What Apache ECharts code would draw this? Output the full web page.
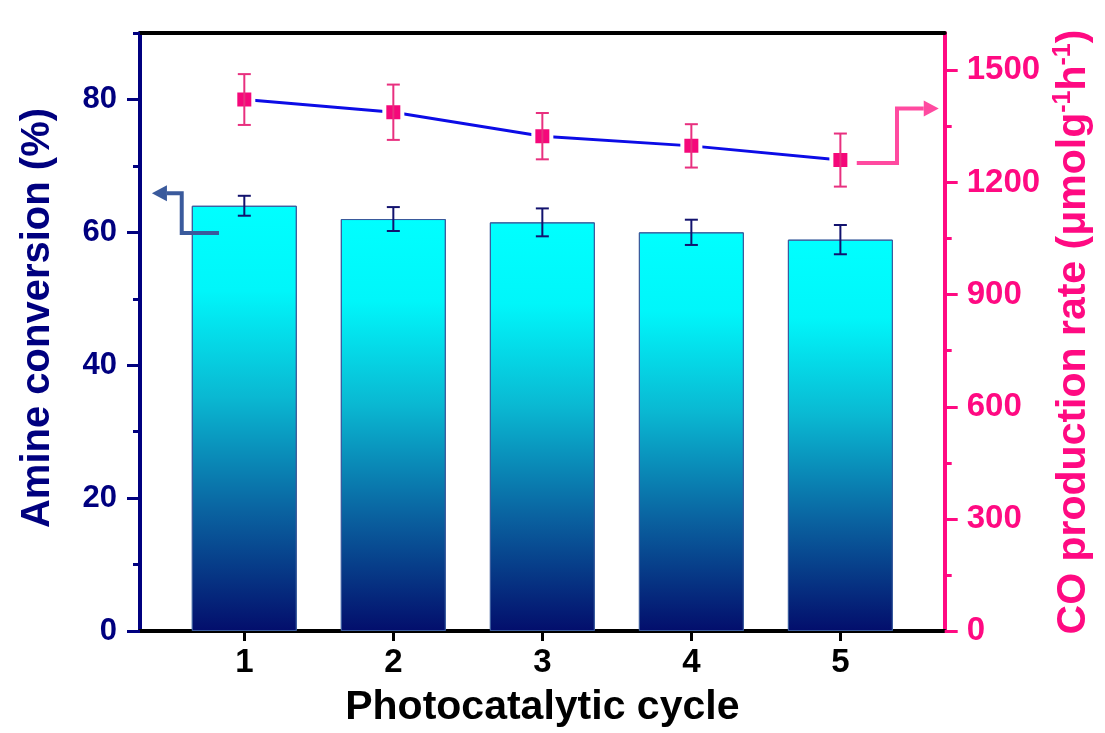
<!DOCTYPE html>
<html>
<head>
    <meta charset="utf-8">
    <title>Photocatalytic cycle</title>
    <script src="https://cdn.jsdelivr.net/npm/echarts@6/dist/echarts.min.js"></script>
    <style>
        html, body { margin: 0; padding: 0; overflow: hidden; background: #fff; }
    </style>
</head>
<body>
    <div id="main" style="width:1105px;height:733px"></div>
    <script type="text/javascript">
        // data
        var cycles = [1, 2, 3, 4, 5];
        var amineConv = [64.0, 62.0, 61.5, 60.0, 58.9];
        var amineErr = [1.5, 1.8, 2.1, 1.9, 2.2];
        var coRate = [1422, 1388, 1324, 1298, 1260];
        var coErr = [68, 74, 62, 58, 71];
        var leftTicks = [0, 20, 40, 60, 80];
        var leftMinor = [10, 30, 50, 70, 90];
        var rightTicks = [0, 300, 600, 900, 1200, 1500];
        var rightMinor = [150, 450, 750, 1050, 1350];
        // arrows in data units (x, left % / right rate)
        var leftArrow = [[0.83, 59.9], [0.58, 59.9], [0.58, 65.9], [0.38, 65.9]];
        var rightArrow = [[5.11, 1252], [5.38, 1252], [5.38, 1398], [5.66, 1398]];

        var NAVY = '#00007f';
        var PINK = '#ff0a82';
        var FONT = 'Liberation Sans, Arial, sans-serif';

        var myChart = echarts.init(document.getElementById('main'), null, { renderer: 'canvas', width: 1105, height: 733 });

        function zip(a, b, c) {
            return a.map(function (v, i) { return c ? [v, b[i], c[i]] : [v, b[i]]; });
        }

        function errRender(color) {
            return function (params, api) {
                var x = api.value(0), y = api.value(1), e = api.value(2);
                var top = api.coord([x, y + e]);
                var bot = api.coord([x, y - e]);
                var hw = 6.5;
                var st = { stroke: color, lineWidth: 2 };
                return {
                    type: 'group',
                    children: [
                        { type: 'line', shape: { x1: top[0], y1: top[1], x2: bot[0], y2: bot[1] }, style: st },
                        { type: 'line', shape: { x1: top[0] - hw, y1: top[1], x2: top[0] + hw, y2: top[1] }, style: st },
                        { type: 'line', shape: { x1: bot[0] - hw, y1: bot[1], x2: bot[0] + hw, y2: bot[1] }, style: st }
                    ]
                };
            };
        }

        function plain(v) { return String(v); }

        var xMin = 0.3, xMax = 5.7;
        var lMax = 90, rMax = 1600;

        var option = {
            backgroundColor: '#fff',
            animation: false,
            grid: { left: 140, right: 155, top: 33, bottom: 101, containLabel: false },
            xAxis: [{
                type: 'value', min: xMin, max: xMax, position: 'bottom',
                name: 'Photocatalytic cycle', nameLocation: 'middle', nameGap: 56,
                nameTextStyle: { fontFamily: FONT, fontWeight: 'bold', fontSize: 41, color: '#000' },
                axisLine: { show: true, onZero: false, lineStyle: { color: '#000', width: 4 } },
                axisTick: { show: true, customValues: cycles, length: 10, lineStyle: { color: '#000', width: 3 } },
                axisLabel: { customValues: cycles, formatter: plain, margin: 15, fontFamily: FONT, fontWeight: 'bold', fontSize: 33, color: '#000' },
                splitLine: { show: false }
            }, {
                type: 'value', min: xMin, max: xMax, position: 'top',
                axisLine: { show: true, onZero: false, lineStyle: { color: '#000', width: 4 } },
                axisTick: { show: false }, axisLabel: { show: false }, splitLine: { show: false }
            }],
            yAxis: [{
                type: 'value', min: 0, max: lMax, position: 'left',
                name: 'Amine conversion (%)', nameLocation: 'middle', nameGap: 82, nameRotate: 90,
                nameTextStyle: { fontFamily: FONT, fontWeight: 'bold', fontSize: 40, color: NAVY, padding: [0, 0, 0, 28] },
                axisLine: { show: true, onZero: false, lineStyle: { color: NAVY, width: 4 } },
                axisTick: { show: true, customValues: leftTicks, length: 13, lineStyle: { color: NAVY, width: 3 } },
                axisLabel: { customValues: leftTicks, formatter: plain, margin: 23, fontFamily: FONT, fontWeight: 'bold', fontSize: 31, color: NAVY },
                splitLine: { show: false }
            }, {
                type: 'value', min: 0, max: rMax, position: 'right',
                name: 'CO production rate (\u03bcmolg{sup|-1}h{sup|-1})', nameLocation: 'middle', nameGap: 104, nameRotate: 90,
                nameTextStyle: {
                    fontFamily: FONT, fontWeight: 'bold', fontSize: 41, color: PINK, lineHeight: 46,
                    rich: { sup: { fontFamily: FONT, fontWeight: 'bold', fontSize: 25, color: PINK, verticalAlign: 'top', lineHeight: 46 } }
                },
                axisLine: { show: true, onZero: false, lineStyle: { color: PINK, width: 4 } },
                axisTick: { show: true, customValues: rightTicks, length: 13, lineStyle: { color: PINK, width: 3 } },
                axisLabel: { customValues: rightTicks, formatter: plain, margin: 22, fontFamily: FONT, fontWeight: 'bold', fontSize: 33, color: PINK },
                splitLine: { show: false }
            }, {
                type: 'value', min: 0, max: lMax, position: 'left',
                axisLine: { show: false },
                axisTick: { show: true, customValues: leftMinor, length: 7, lineStyle: { color: NAVY, width: 3 } },
                axisLabel: { show: false }, splitLine: { show: false }
            }, {
                type: 'value', min: 0, max: rMax, position: 'right',
                axisLine: { show: false },
                axisTick: { show: true, customValues: rightMinor, length: 7, lineStyle: { color: PINK, width: 3 } },
                axisLabel: { show: false }, splitLine: { show: false }
            }],
            series: [{
                name: 'Amine conversion',
                type: 'bar',
                xAxisIndex: 0, yAxisIndex: 0,
                barWidth: 105,
                data: zip(cycles, amineConv),
                itemStyle: {
                    color: new echarts.graphic.LinearGradient(0, 0, 0, 1, [
                        { offset: 0, color: '#00ffff' },
                        { offset: 0.2, color: '#00f6fa' },
                        { offset: 0.45, color: '#0ab8d2' },
                        { offset: 0.72, color: '#0a62a0' },
                        { offset: 1, color: '#030e6c' }
                    ]),
                    borderColor: '#3a5a9c',
                    borderWidth: 1
                },
                z: 2
            }, {
                name: 'Amine error',
                type: 'custom',
                xAxisIndex: 0, yAxisIndex: 0,
                data: zip(cycles, amineConv, amineErr),
                encode: { x: 0, y: 1 },
                renderItem: errRender('#12126e'),
                z: 5
            }, {
                name: 'CO rate',
                type: 'line',
                xAxisIndex: 0, yAxisIndex: 1,
                data: zip(cycles, coRate),
                symbol: 'rect',
                symbolSize: 18,
                lineStyle: { color: '#0c0ce6', width: 3 },
                itemStyle: { color: '#f5087a', borderColor: '#fff', borderWidth: 4 },
                z: 3
            }, {
                name: 'CO error',
                type: 'custom',
                xAxisIndex: 0, yAxisIndex: 1,
                data: zip(cycles, coRate, coErr),
                encode: { x: 0, y: 1 },
                renderItem: errRender('#e8307f'),
                z: 6
            }]
        };

        myChart.setOption(option);

        // little elbow arrows pointing at the matching axis
        function arrowGraphic(pts, yIdx, color) {
            var px = pts.map(function (p) {
                return myChart.convertToPixel({ xAxisIndex: 0, yAxisIndex: yIdx }, p);
            });
            var tip = px[px.length - 1];
            var prev = px[px.length - 2];
            var dir = tip[0] > prev[0] ? 1 : -1;
            var headLen = 15, headHalf = 8;
            var base = [tip[0] - dir * headLen, tip[1]];
            var linePts = px.slice(0, px.length - 1).concat([base]);
            return [{
                type: 'polyline',
                shape: { points: linePts },
                style: { stroke: color, lineWidth: 4, fill: null },
                z: 10
            }, {
                type: 'polygon',
                shape: { points: [tip, [base[0], base[1] - headHalf], [base[0], base[1] + headHalf]] },
                style: { fill: color },
                z: 10
            }];
        }

        myChart.setOption({
            graphic: arrowGraphic(leftArrow, 0, '#3a5a9c').concat(arrowGraphic(rightArrow, 1, '#ff4aa0'))
        });
    </script>
</body>
</html>
